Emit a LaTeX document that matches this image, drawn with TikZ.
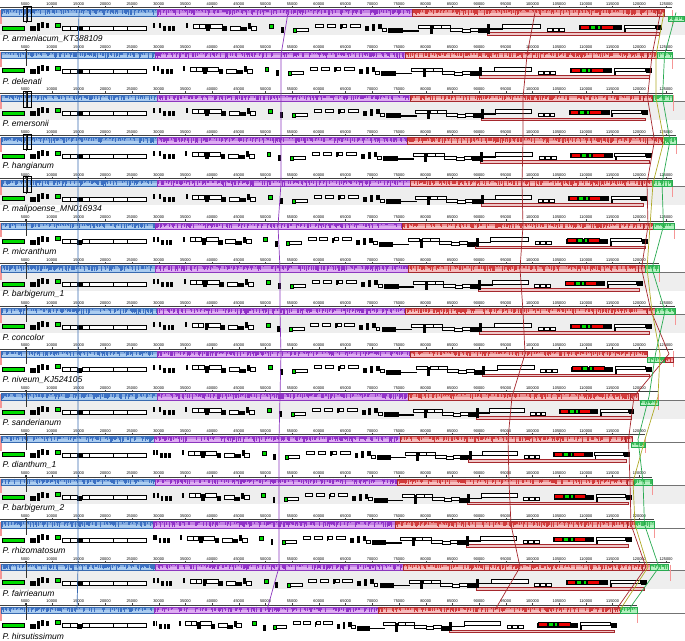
\documentclass[tikz,border=0pt]{standalone}
\usepackage{fontspec}
\setmainfont{Liberation Sans}
\definecolor{bluefill}{RGB}{170,204,240}
\definecolor{bluespk}{RGB}{60,112,195}
\definecolor{blueline}{RGB}{55,105,175}
\definecolor{purplefill}{RGB}{222,172,242}
\definecolor{purplespk}{RGB}{145,50,200}
\definecolor{purpleline}{RGB}{140,55,190}
\definecolor{redfill}{RGB}{247,188,188}
\definecolor{redspk}{RGB}{210,60,60}
\definecolor{redline}{RGB}{165,40,45}
\definecolor{greenfill}{RGB}{180,240,192}
\definecolor{greenspk}{RGB}{60,190,90}
\definecolor{greenline}{RGB}{40,170,80}
\definecolor{oliveline}{RGB}{175,170,40}
\definecolor{panelgray}{RGB}{238,238,238}
\definecolor{pinkend}{RGB}{245,150,150}
\definecolor{irfill}{RGB}{240,200,200}
\definecolor{genered}{RGB}{235,0,0}
\definecolor{genegreen}{RGB}{0,220,0}

\tikzset{
  declare function={mapx(\q,\b,\p,\r)=(\q<157)*\q+(\q>=157)*(\q<412)*(\b+(\q-157)/255*(\p-\b))+(\q>=412)*(\p+(\q-412)/245*(\r-\p));},
  ruler/.style={black!75,line width=0.4pt},
  midline/.style={black!55,line width=0.5pt},
  numfont/.style={font=\fontsize{3.9}{4}\selectfont,inner sep=0pt},
  namefont/.style={font=\itshape\fontsize{8.5}{9}\selectfont,inner sep=0pt,anchor=west},
  gopen/.style={draw=black,fill=white,line width=0.5pt},
  gblack/.style={draw=black,fill=black,line width=0.3pt},
  ggreen/.style={draw=black,fill=genegreen,line width=0.5pt},
  gred/.style={draw=black,fill=genered,line width=0.5pt},
  girbar/.style={draw=redline,fill=irfill,line width=0.8pt},
  conn/.style={line width=0.7pt},
}

% one coloured block with its similarity profile
\newcommand\lcb[5]{%
  \fill[#5fill] (#1,#3) rectangle (#2,#4);
  \fill[#5spk!35!#5fill] (#1,#3) rectangle (#2,{#3+0.5*(#4-#3)});
  \pgfmathtruncatemacro\nsp{max(2,(#2-#1)/1.0)}
  \foreach \k in {1,...,\nsp}{%
    \pgfmathsetmacro\xr{#1+rnd*(#2-#1)}%
    \pgfmathsetmacro\hr{0.4+rnd*0.8*(#4-#3)}%
    \draw[#5spk,line width=0.25pt] (\xr,#3) -- ++(0,\hr);
  }
  \draw[#5line,line width=0.6pt] (#1,#3) rectangle (#2,#4);
}

% annotated features of the first genome: x1/x2/y1/y2/style
\newcommand\genelist{2/24/23.5/27.5/ggreen, 30/35/24/28/gblack, 37/39/21/28/gblack,
  41/43/20/25/gblack, 46/48/21/25/gblack, 55/60/21/25/ggreen, 62/70/24/28/gopen,
  70/77/24/28/gopen, 77/81/24/28/gblack, 82/89/24/28/gopen, 89/113/24/28/gopen,
  113/127/24/28/gopen, 127/146/24/28/gopen, 153/154/21/25/gblack, 159/160/21/25/gblack,
  163/165/24/28/gblack, 168/170/24/28/gblack, 172/174/24/28/gblack, 186/187/21/25/gblack,
  193/199/22/26/gopen, 199/205/22/26/gopen, 206/209/22/28/gblack, 210/222/22/26/gopen,
  222/226/24/28/gblack, 230/240/24/28/gopen, 240/246/25/28/gblack, 248/250/21/26/gblack,
  251/256/24/28/gopen, 269/273/22/26/ggreen, 281/283/25/30/gblack, 293/296/26/30/ggreen,
  296/308/26/29/gopen, 315/323/22/25/gopen, 327/335/22/25/gopen, 340/341/22/26/gblack,
  342/346/22/25/gopen, 350/360/22/25/gopen, 365/368/24/28/gblack, 372/374/22/28/gblack,
  378/381/22/26/gblack, 382/386/26/29/gopen, 388/402/26/30/gblack, 403/418/28/28.6/gblack,
  418/430/23/26/gopen, 430/432/23/31/gblack, 433/441/23/26/gopen, 441/450/23/26/gopen,
  450/462/26/29/gopen, 462/470/27/30/gopen, 470/478/26/29/gopen, 478/487/26/30/gblack,
  487/659/30.5/33/girbar, 487/489/22/30.5/gblack, 489/502/26/26.6/gblack, 502/540/22/26/gopen,
  547/552/26/29/gopen, 553/558/26/29/gopen, 559/564/26/29/gopen, 579/621/23/27/gblack,
  580/589/23/27/gred, 590/595/23/27/ggreen, 597/600/23/27/ggreen,
  601/613/23/27/gred, 624/655/23/26/gopen, 624/625/26/29/gblack, 656/658/23/27/gblack,
  659/661/23/27/gblack}

\begin{document}
\begin{tikzpicture}[x=1pt,y=-1pt]
\path[use as bounding box] (0,0) rectangle (685,640);
\pgfmathsetseed{11}
% grey feature bands
\foreach \j in {0,2,4,6,7,9,11,13}
  \fill[panelgray] (0,{42.67*\j+16}) rectangle (685,{42.67*\j+34.5});
% genomes: index/name/blue end/purple end/red end/small red block/inv/green block/inv/length
\foreach \i/\nm/\be/\pe/\re/\sa/\sb/\sinv/\ga/\gb/\ginv/\len in {
  0/armeniacum\_KT388109/157/412/657/657/664/0/668/684/1/672,
  1/delenati/155/405/647/647/657/0/657/672/0/672,
  2/emersonii/157/410/643/643/652/0/653/672/0/673,
  3/hangianum/157/407/647/647/662/0/664/676/0/676,
  4/malipoense\_MN016934/157/410/642/642/652/0/652/672/0/672,
  5/micranthum/155/402/643/643/653/0/653/674/0/674,
  6/barbigerum\_1/155/408/638/638/645/0/645/659/0/659,
  7/concolor/157/405/647/647/655/0/655/675/0/675,
  8/niveum\_KJ524105/157/410/647/665/673/1/647/664/1/673,
  9/sanderianum/157/408/630/630/638/0/640/658/1/658,
  10/dianthum\_1/154/400/625/625/632/0/631/645/1/645,
  11/barbigerum\_2/155/397/627/627/633/0/634/652/0/652,
  12/rhizomatosum/153/395/627/627/635/0/635/654/0/654,
  13/fairrieanum/155/403/642/642/650/0/650/668/0/670,
  14/hirsutissimum/154/378/612/612/620/0/620/637/0/637}{
  \pgfmathsetmacro\ty{42.67*\i}
  \begin{scope}[shift={(0,\ty)}]
    \draw[midline] (0,16) -- (685,16);
    % ruler
    \draw[ruler] (0,7.6) -- (\len,7.6);
    \foreach \n in {1,...,25}{
      \pgfmathsetmacro\xx{-1.5+26.7*\n}
      \pgfmathtruncatemacro\ok{\xx<\len-4}
      \ifnum\ok=1
        \draw[ruler] (\xx,6) -- (\xx,7.6);
        \node[numfont] at (\xx,4.1) {\the\numexpr5000*\n\relax};
      \fi
    }
    % blocks
    \fill[pinkend] (0,9.5) rectangle (1.5,24);
    \draw[pinkend,line width=0.6pt] (\len,10) -- (\len,26);
    \lcb{1.5}{\be}{9.5}{16}{blue}
    \lcb{\be}{\pe}{9.5}{16}{purple}
    \lcb{\pe}{\re}{9.5}{16}{red}
    \ifnum\sinv=1 \lcb{\sa}{\sb}{16}{21}{red}\else\lcb{\sa}{\sb}{9.5}{16}{red}\fi
    \ifnum\ginv=1 \lcb{\ga}{\gb}{16}{21}{green}\else\lcb{\ga}{\gb}{9.5}{16}{green}\fi
    \coordinate (rs\i) at ({(\sa+\sb)/2},12.5);
    \coordinate (gr\i) at ({(\ga+\gb)/2},12.5);
    \draw[black!80,line width=0.8pt] (26,6) -- (26,23);
    % features
    \foreach \xa/\xb/\ya/\yb/\st in \genelist{
      \pgfmathsetmacro\ua{mapx(\xa,\be,\pe,\re)}
      \pgfmathsetmacro\ub{mapx(\xb,\be,\pe,\re)}
      \draw[\st] (\ua,{\ya+2.3}) rectangle (\ub,{\yb+2.3});
    }
    \node[namefont] (lab\i) at (2.5,38.6) {P. \nm};
  \end{scope}
}
% boxes over the blue block
\foreach \j in {0,2,3,4}{
  \draw[gopen,fill=none,line width=0.45pt] (23.3,{42.67*\j+6}) rectangle (27.3,{42.67*\j+21.7})
    (27.7,{42.67*\j+6}) rectangle (31.7,{42.67*\j+21.7});
}
% homologous positions
\foreach \x [count=\c from 0] in {79,78,78,78,78,78,78,78,78,78,78,78,78,78,77}
  \coordinate (bl\c) at (\x,{42.67*\c+12.5});
\foreach \x [count=\c from 0] in {288,281,281,281,281,278,280,280,281,280,279,279,279,279,267}
  \coordinate (pu\c) at (\x,{42.67*\c+12.5});
\foreach \x [count=\c from 0] in {535,527,523,523,522,523,520,523,525,512,508,509,511,520,495}
  \coordinate (rd\c) at (\x,{42.67*\c+12.5});
\foreach \x [count=\c from 0] in {664,656,656,664,653,650,647,652,660,658,645,633,635,648,620}
  \coordinate (ol\c) at (\x,{42.67*\c+12.5});
\draw[conn,blueline] (bl0) \foreach \c in {1,...,14}{ -- (bl\c)};
\draw[conn,purpleline] (pu0) \foreach \c in {1,...,14}{ -- (pu\c)};
\draw[conn,redline] (rd0) \foreach \c in {1,...,14}{ -- (rd\c)};
\draw[conn,redline] (rs0) \foreach \c in {1,...,14}{ -- (rs\c)};
\draw[conn,oliveline] (ol0) \foreach \c in {1,...,14}{ -- (ol\c)};
\draw[conn,greenline] (gr0) \foreach \c in {1,...,14}{ -- (gr\c)};
\end{tikzpicture}
\end{document}
